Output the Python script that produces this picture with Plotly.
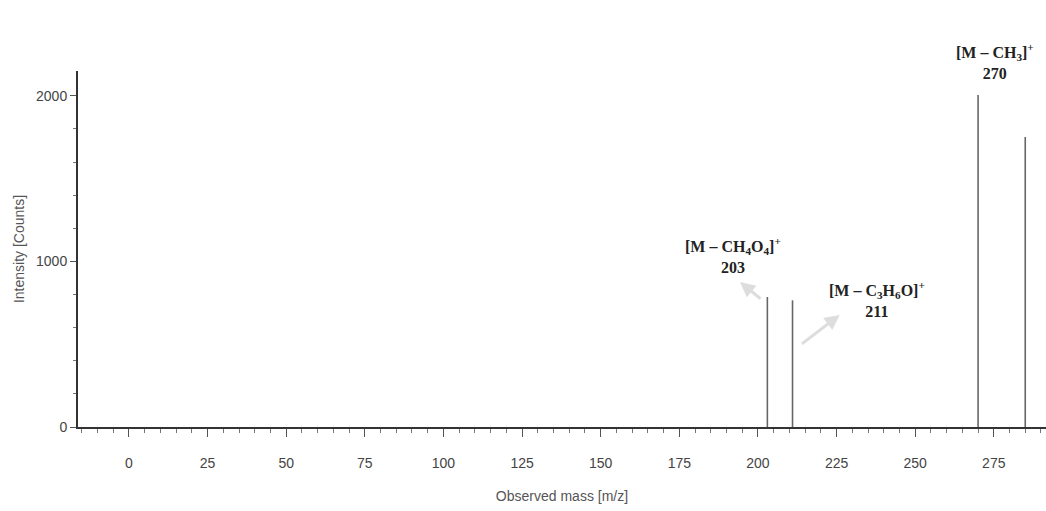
import plotly.graph_objects as go

# Data
masses = [203, 211, 270, 285]
intensities = [785, 765, 2005, 1752]
x_ticks = [0, 25, 50, 75, 100, 125, 150, 175, 200, 225, 250, 275]
y_ticks = [0, 1000, 2000]
label_texts = ["<b>[M – CH<sub>4</sub>O<sub>4</sub>]<sup>+</sup><br>203</b>",
               "<b>[M – C<sub>3</sub>H<sub>6</sub>O]<sup>+</sup><br>211</b>",
               "<b>[M – CH<sub>3</sub>]<sup>+</sup><br>270</b>"]
label_x = [192, 238, 275.5]
label_y = [0.482, 0.357, 1.028]  # paper fraction

xs, ys = [], []
for m, v in zip(masses, intensities):
    xs += [m, m, None]
    ys += [0, v, None]

fig = go.Figure()
fig.add_trace(go.Scatter(x=xs, y=ys, mode="lines",
                         line=dict(color="#666666", width=1.6),
                         hoverinfo="skip", showlegend=False))

for t, lx, ly in zip(label_texts, label_x, label_y):
    fig.add_annotation(x=lx, y=ly, xref="x", yref="paper", text=t, showarrow=False,
                       xanchor="center", yanchor="middle",
                       font=dict(family="Liberation Serif, Times New Roman, serif",
                                 size=16, color="#222222"),
                       align="center")

# gray arrows from peaks toward labels
fig.add_annotation(x=194.3, y=876, xref="x", yref="y", ax=201.3, ay=767, axref="x", ayref="y",
                   text="", showarrow=True, arrowhead=2, arrowsize=1, arrowwidth=3,
                   arrowcolor="#dddddd")
fig.add_annotation(x=226, y=677, xref="x", yref="y", ax=213.5, ay=495, axref="x", ayref="y",
                   text="", showarrow=True, arrowhead=2, arrowsize=1, arrowwidth=3,
                   arrowcolor="#dddddd")

tick_font = dict(family="Liberation Sans Narrow, Arial Narrow, sans-serif", size=14, color="#444444")
title_font = dict(family="Liberation Sans Narrow, Arial Narrow, sans-serif", size=14, color="#555555")

fig.update_layout(
    width=1046, height=511,
    margin=dict(l=78, r=0, t=71, b=84),
    paper_bgcolor="white", plot_bgcolor="white",
    showlegend=False,
    xaxis=dict(range=[-16.2, 291.6], tickvals=x_ticks, ticktext=[str(v) for v in x_ticks],
               showgrid=False, zeroline=False, showline=True, linecolor="#333333", linewidth=2,
               ticks="outside", ticklen=8, tickcolor="#555555", tickwidth=1,
               ticklabelstandoff=14,
               minor=dict(dtick=5, tick0=0, ticks="outside", ticklen=4, tickcolor="#777777"),
               tickfont=tick_font,
               title=dict(text="Observed mass [m/z]", standoff=21, font=title_font)),
    yaxis=dict(range=[0, 2150], tickvals=y_ticks, ticktext=[str(v) for v in y_ticks],
               showgrid=False, zeroline=False, showline=True, linecolor="#333333", linewidth=2,
               ticks="outside", ticklen=6, tickcolor="#555555",
               minor=dict(dtick=200, ticks="outside", ticklen=3, tickcolor="#777777"),
               tickfont=tick_font,
               title=dict(text="Intensity [Counts]", standoff=8, font=title_font)),
)

fig.write_html("out.html")
